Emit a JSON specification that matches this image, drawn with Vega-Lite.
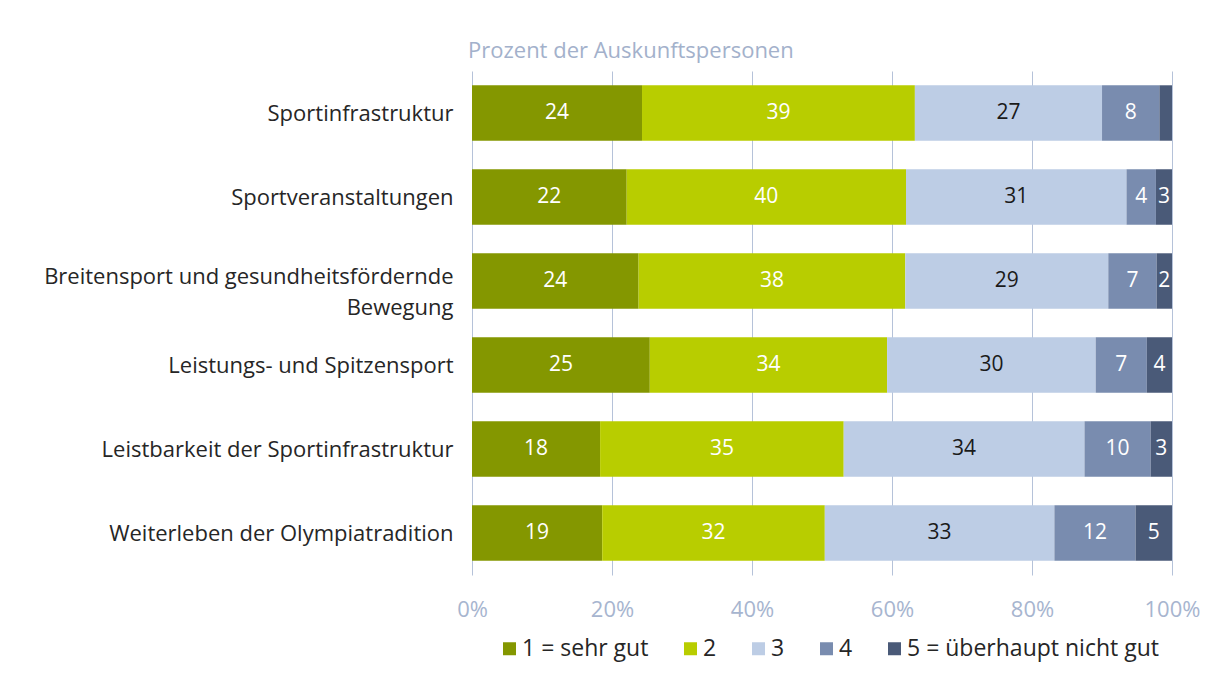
{
  "$schema": "https://vega.github.io/schema/vega-lite/v6.json",
  "autosize": "none",
  "width": 700,
  "height": 504,
  "padding": {"left": 472, "top": 71, "right": 44, "bottom": 104},
  "background": "white",
  "title": {
    "text": "Prozent der Auskunftspersonen",
    "anchor": "start",
    "frame": "group",
    "dx": -4,
    "offset": 8,
    "font": "Open Sans",
    "fontSize": 22,
    "fontWeight": "normal",
    "color": "#a3b1cb"
  },
  "data": {
    "values": [
      {"item": "Sportinfrastruktur", "cat": "1 = sehr gut", "ord": 1, "value": 24.3, "lbl": "24"},
      {"item": "Sportinfrastruktur", "cat": "2", "ord": 2, "value": 39.0, "lbl": "39"},
      {"item": "Sportinfrastruktur", "cat": "3", "ord": 3, "value": 26.75, "lbl": "27"},
      {"item": "Sportinfrastruktur", "cat": "4", "ord": 4, "value": 8.2, "lbl": "8"},
      {"item": "Sportinfrastruktur", "cat": "5 = überhaupt nicht gut", "ord": 5, "value": 1.8, "lbl": ""},
      {"item": "Sportveranstaltungen", "cat": "1 = sehr gut", "ord": 1, "value": 22.1, "lbl": "22"},
      {"item": "Sportveranstaltungen", "cat": "2", "ord": 2, "value": 39.9, "lbl": "40"},
      {"item": "Sportveranstaltungen", "cat": "3", "ord": 3, "value": 31.5, "lbl": "31"},
      {"item": "Sportveranstaltungen", "cat": "4", "ord": 4, "value": 4.2, "lbl": "4"},
      {"item": "Sportveranstaltungen", "cat": "5 = überhaupt nicht gut", "ord": 5, "value": 2.3, "lbl": "3"},
      {"item": "Breitensport und gesundheitsfördernde Bewegung", "cat": "1 = sehr gut", "ord": 1, "value": 23.8, "lbl": "24"},
      {"item": "Breitensport und gesundheitsfördernde Bewegung", "cat": "2", "ord": 2, "value": 38.1, "lbl": "38"},
      {"item": "Breitensport und gesundheitsfördernde Bewegung", "cat": "3", "ord": 3, "value": 29.0, "lbl": "29"},
      {"item": "Breitensport und gesundheitsfördernde Bewegung", "cat": "4", "ord": 4, "value": 6.9, "lbl": "7"},
      {"item": "Breitensport und gesundheitsfördernde Bewegung", "cat": "5 = überhaupt nicht gut", "ord": 5, "value": 2.2, "lbl": "2"},
      {"item": "Leistungs- und Spitzensport", "cat": "1 = sehr gut", "ord": 1, "value": 25.4, "lbl": "25"},
      {"item": "Leistungs- und Spitzensport", "cat": "2", "ord": 2, "value": 33.9, "lbl": "34"},
      {"item": "Leistungs- und Spitzensport", "cat": "3", "ord": 3, "value": 29.8, "lbl": "30"},
      {"item": "Leistungs- und Spitzensport", "cat": "4", "ord": 4, "value": 7.3, "lbl": "7"},
      {"item": "Leistungs- und Spitzensport", "cat": "5 = überhaupt nicht gut", "ord": 5, "value": 3.6, "lbl": "4"},
      {"item": "Leistbarkeit der Sportinfrastruktur", "cat": "1 = sehr gut", "ord": 1, "value": 18.3, "lbl": "18"},
      {"item": "Leistbarkeit der Sportinfrastruktur", "cat": "2", "ord": 2, "value": 34.8, "lbl": "35"},
      {"item": "Leistbarkeit der Sportinfrastruktur", "cat": "3", "ord": 3, "value": 34.4, "lbl": "34"},
      {"item": "Leistbarkeit der Sportinfrastruktur", "cat": "4", "ord": 4, "value": 9.45, "lbl": "10"},
      {"item": "Leistbarkeit der Sportinfrastruktur", "cat": "5 = überhaupt nicht gut", "ord": 5, "value": 3.05, "lbl": "3"},
      {"item": "Weiterleben der Olympiatradition", "cat": "1 = sehr gut", "ord": 1, "value": 18.6, "lbl": "19"},
      {"item": "Weiterleben der Olympiatradition", "cat": "2", "ord": 2, "value": 31.8, "lbl": "32"},
      {"item": "Weiterleben der Olympiatradition", "cat": "3", "ord": 3, "value": 32.8, "lbl": "33"},
      {"item": "Weiterleben der Olympiatradition", "cat": "4", "ord": 4, "value": 11.6, "lbl": "12"},
      {"item": "Weiterleben der Olympiatradition", "cat": "5 = überhaupt nicht gut", "ord": 5, "value": 5.2, "lbl": "5"}
    ]
  },
  "encoding": {
    "y": {
      "field": "item",
      "type": "nominal",
      "sort": null,
      "title": null,
      "scale": {"paddingInner": 0.34, "paddingOuter": 0.17},
      "axis": {
        "domain": false,
        "ticks": false,
        "labelPadding": 19,
        "labelFont": "Open Sans",
        "labelFontSize": 22,
        "labelColor": "#262626",
        "labelLimit": 460,
        "labelLineHeight": 31,
        "labelOffset": {
          "condition": {"test": "datum.value == 'Breitensport und gesundheitsfördernde Bewegung'", "value": -4},
          "value": 1
        },
        "labelExpr": "datum.label == 'Breitensport und gesundheitsfördernde Bewegung' ? ['Breitensport und gesundheitsfördernde', 'Bewegung'] : datum.label"
      }
    }
  },
  "layer": [
    {
      "mark": {"type": "bar"},
      "encoding": {
        "x": {
          "field": "value",
          "type": "quantitative",
          "stack": "normalize",
          "title": null,
          "scale": {"domain": [0, 1]},
          "axis": {
            "format": ".0%",
            "values": [0, 0.2, 0.4, 0.6, 0.8, 1],
            "grid": true,
            "gridColor": "#b5c2d9",
            "gridWidth": 1,
            "domain": false,
            "ticks": false,
            "labelPadding": 24,
            "labelFont": "Open Sans",
            "labelFontSize": 22,
            "labelColor": "#a7b5cf",
            "labelFlush": false
          }
        },
        "color": {
          "field": "cat",
          "type": "nominal",
          "title": null,
          "scale": {
            "domain": ["1 = sehr gut", "2", "3", "4", "5 = überhaupt nicht gut"],
            "range": ["#849700", "#b8cd00", "#bdcde5", "#798caf", "#4a5a78"]
          },
          "legend": {
            "orient": "none",
            "direction": "horizontal",
            "legendX": 26,
            "legendY": 566,
            "symbolType": "square",
            "symbolSize": 169,
            "symbolStrokeWidth": 0,
            "labelFont": "Open Sans",
            "labelFontSize": 23,
            "labelColor": "#262626",
            "labelOffset": 1,
            "columnPadding": 30,
            "labelLimit": 300
          }
        },
        "order": {"field": "ord", "type": "quantitative"}
      }
    },
    {
      "mark": {"type": "text", "font": "Open Sans", "fontSize": 21, "align": "center", "baseline": "middle"},
      "encoding": {
        "x": {"field": "value", "type": "quantitative", "stack": "normalize", "bandPosition": 0.5},
        "detail": {"field": "cat", "type": "nominal"},
        "order": {"field": "ord", "type": "quantitative"},
        "text": {"field": "lbl"},
        "color": {
          "condition": {"test": "datum.cat == '3'", "value": "#1a1a1a"},
          "value": "#ffffff"
        }
      }
    }
  ],
  "config": {
    "view": {"stroke": null}
  }
}
